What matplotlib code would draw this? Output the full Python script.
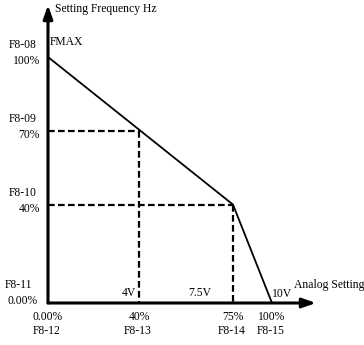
import numpy as np
import matplotlib
matplotlib.use("Agg")
import matplotlib.pyplot as plt

# data
curve_x = [0, 75, 100]          # analog setting (%)
curve_y = [100, 40, 0]          # setting frequency (%)
guide_x = [40, 75]              # x guide positions (%)
guide_y = [70, 40]              # y guide positions (%)
x_tick_pct = ["0.00%", "40%", "75%", "100%"]
x_tick_codes = ["F8-12", "F8-13", "F8-14", "F8-15"]
x_tick_vals = [0, 40, 75, 100]
x_volt_labels = ["4V", "7.5V", "10V"]
y_tick_vals = [100, 70, 40, 0]
y_tick_pct = ["100%", "70%", "40%", "0.00%"]
y_tick_codes = ["F8-08", "F8-09", "F8-10", "F8-11"]

plt.rcParams['font.family'] = ['Liberation Serif', 'DejaVu Serif']
FS = 8.4

fig = plt.figure(figsize=(3.64, 3.45), dpi=100)
W, H = 364, 345
ax = fig.add_axes([48 / W, 42 / H, 224 / W, 246 / H])

# piecewise position scale (schematic spacing)
sx = [0, 40, 75, 100]
sp = [0, 91, 185, 224]
def fwd_ext(v):
    v = np.asarray(v, dtype=float)
    out = np.interp(v, sx, sp)
    out = np.where(v > 100, 224 + (v - 100) * (39 / 25), out)
    out = np.where(v < 0, v * 91 / 40, out)
    return out
def inv_ext(p):
    p = np.asarray(p, dtype=float)
    out = np.interp(p, sp, sx)
    out = np.where(p > 224, 100 + (p - 224) * 25 / 39, out)
    out = np.where(p < 0, p * 40 / 91, out)
    return out
ax.set_xscale('function', functions=(fwd_ext, inv_ext))
ax.set_xlim(0, 100)
ax.set_ylim(0, 100)
ax.axis('off')

# main curve
ax.plot(curve_x, curve_y, color='black', lw=1.3, clip_on=False, solid_joinstyle='miter')

# dashed guides
dash = (0, (3, 1.5))
ax.plot([0, guide_x[0]], [guide_y[0], guide_y[0]], color='black', lw=1.6, ls=dash, clip_on=False)
ax.plot([guide_x[0], guide_x[0]], [guide_y[0], 0], color='black', lw=1.6, ls=dash, clip_on=False)
ax.plot([0, guide_x[1]], [guide_y[1], guide_y[1]], color='black', lw=1.6, ls=dash, clip_on=False)
ax.plot([guide_x[1], guide_x[1]], [guide_y[1], 0], color='black', lw=1.6, ls=dash, clip_on=False)

# axes arrows
ax.annotate('', xy=(0, 298 / 246), xytext=(0, 0), xycoords='axes fraction',
            arrowprops=dict(arrowstyle='-|>,head_length=0.8,head_width=0.28', lw=2.2, color='black',
                            shrinkA=0, shrinkB=0))
ax.annotate('', xy=(268 / 224, 0), xytext=(0, 0), xycoords='axes fraction',
            arrowprops=dict(arrowstyle='-|>,head_length=0.8,head_width=0.28', lw=2.2, color='black',
                            shrinkA=0, shrinkB=0))

# axis titles
ax.annotate('Setting Frequency Hz', xy=(0, 1), xycoords='axes fraction',
            xytext=(7, 48), textcoords='offset pixels', ha='left', va='center', fontsize=FS)
ax.annotate('Analog Setting', xy=(1, 0), xycoords='axes fraction',
            xytext=(22, 18), textcoords='offset pixels', ha='left', va='center', fontsize=FS)
ax.annotate('FMAX', xy=(0, 100), xycoords='data',
            xytext=(2, 15), textcoords='offset pixels', ha='left', va='center', fontsize=FS)

# y labels
for v, pct, code in zip(y_tick_vals, y_tick_pct, y_tick_codes):
    if v == 0:
        ax.annotate(code, xy=(0, v), xytext=(-43, 18), textcoords='offset pixels',
                    ha='left', va='center', fontsize=FS)
        ax.annotate(pct, xy=(0, v), xytext=(-10, 2), textcoords='offset pixels',
                    ha='right', va='center', fontsize=FS)
    else:
        ax.annotate(code, xy=(0, v), xytext=(-11, 12), textcoords='offset pixels',
                    ha='right', va='center', fontsize=FS)
        ax.annotate(pct, xy=(0, v), xytext=(-8, -4), textcoords='offset pixels',
                    ha='right', va='center', fontsize=FS)

# x labels
for v, pct, code in zip(x_tick_vals, x_tick_pct, x_tick_codes):
    ax.annotate(pct, xy=(v, 0), xytext=(0, -14), textcoords='offset pixels',
                ha='center', va='center', fontsize=FS)
    ax.annotate(code, xy=(v, 0), xytext=(-1, -28), textcoords='offset pixels',
                ha='center', va='center', fontsize=FS)

# voltage labels
ax.annotate(x_volt_labels[0], xy=(guide_x[0], 0), xytext=(-3, 10), textcoords='offset pixels',
            ha='right', va='center', fontsize=FS)
ax.annotate(x_volt_labels[1], xy=(guide_x[1], 0), xytext=(-33, 10), textcoords='offset pixels',
            ha='center', va='center', fontsize=FS)
ax.annotate(x_volt_labels[2], xy=(100, 0), xytext=(0, 9), textcoords='offset pixels',
            ha='left', va='center', fontsize=FS)

fig.savefig('out.png', dpi=100)
